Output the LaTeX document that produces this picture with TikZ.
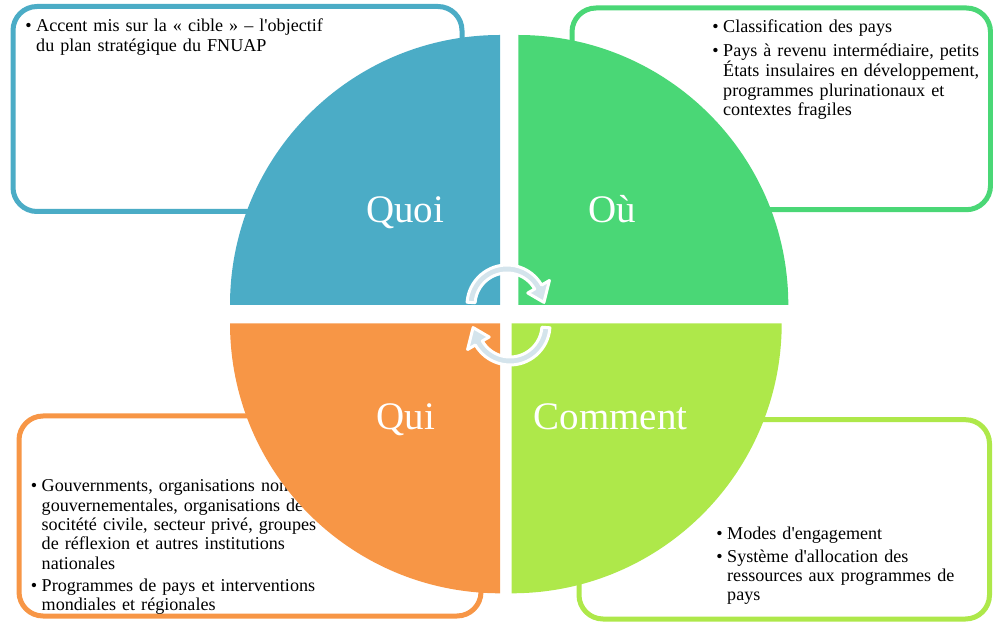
\documentclass[tikz,border=0pt]{standalone}
\usepackage{fontspec}
\setmainfont{Liberation Serif}[Ligatures=TeXOff]
\usepackage{tikz}
\definecolor{quoicolor}{HTML}{4BACC6}
\definecolor{oucolor}{HTML}{4AD776}
\definecolor{quicolor}{HTML}{F79646}
\definecolor{commentcolor}{HTML}{AEE84A}
\definecolor{arrowcolor}{HTML}{D4E4EC}
\newcommand{\bul}{\leavevmode\llap{\textbullet\hspace{4.5pt}}}

\begin{document}
\begin{tikzpicture}[x=1pt,y=1pt,
  infobox/.style={line width=5pt,rounded corners=24pt,fill=white},
  infotext/.style={anchor=base west,inner sep=0pt,text width=330pt,align=left,font=\fontsize{18.1}{19.3}\selectfont},
  bigword/.style={anchor=base,inner sep=0pt,text=white,font=\fontsize{39}{39}\selectfont},
  cyclearrow/.style={fill=arrowcolor,draw=white,line width=3pt,line join=round}]
\useasboundingbox (0,0) rectangle (993,621);
%% boxes behind the circle
\draw[infobox,draw=quoicolor] (13,409.5) rectangle (462,614.5);
\draw[infobox,draw=oucolor] (572,411.3) rectangle (990.5,613);
\draw[infobox,draw=quicolor] (19,5) rectangle (481,205);
\draw[infobox,draw=commentcolor] (579,2) rectangle (989.5,201.3);

\node[infotext] (txtquoi) at (36,589) {\bul Accent mis sur la « cible » – l'objectif\\ du plan stratégique du FNUAP};
\node[infotext] (txtou) at (723,588) {\bul Classification des pays\\[4pt]
  \bul Pays à revenu intermédiaire, petits\\ États insulaires en développement,\\ programmes plurinationaux et\\ contextes fragiles};
\node[infotext] (txtqui) at (41.5,129) {\bul Gouvernments, organisations non\\ gouvernementales, organisations de la\\ socitété civile, secteur privé, groupes\\ de réflexion et autres institutions\\ nationales\\[3pt]
  \bul Programmes de pays et interventions\\ mondiales et régionales};
\node[infotext] (txtcomment) at (727,81) {\bul Modes d'engagement\\[3pt]
  \bul Système d'allocation des\\ ressources aux programmes de\\ pays};

%% the four quarters
\fill[quoicolor] (500,316) -- (230,316) arc[start angle=180,end angle=90,radius=270] -- cycle;
\fill[oucolor] (518.3,316) -- (518.3,586) arc[start angle=90,end angle=0,radius=270] -- cycle;
\fill[quicolor] (500,297.7) -- (230,297.7) arc[start angle=180,end angle=270,radius=270] -- cycle;
\fill[commentcolor] (511.7,297.7) -- (781.7,297.7) arc[start angle=0,end angle=-90,radius=270] -- cycle;

\node[bigword] (quoi) at (405,398.3) {Quoi};
\node[bigword] (ou) at (612,398.3) {Où};
\node[bigword] (qui) at (406,191) {Qui};
\node[bigword] (comment) at (610.5,191) {Comment};

%% cycle arrows in the middle
\filldraw[cyclearrow,shift={(507,316)}] (176:40) arc[start angle=176,end angle=30,radius=40] -- (30:49) -- (4:37) -- (30:24) -- (30:32) arc[start angle=30,end angle=176,radius=32] -- cycle;
\filldraw[cyclearrow,shift={(510,296)}] (-4:40) arc[start angle=-4,end angle=-150,radius=40] -- (-150:49) -- (-176:37) -- (-150:24) -- (-150:32) arc[start angle=-150,end angle=-4,radius=32] -- cycle;
\end{tikzpicture}
\end{document}
